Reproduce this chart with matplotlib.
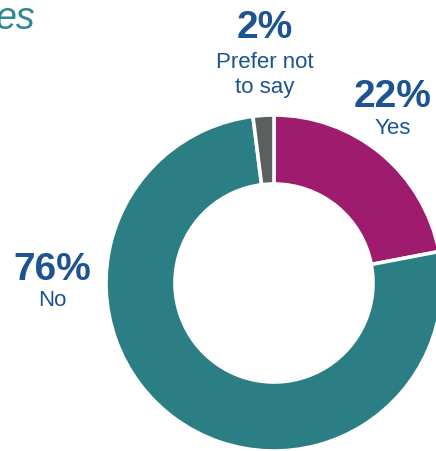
import matplotlib
matplotlib.use("Agg")
import matplotlib.pyplot as plt

categories = ["Yes", "No", "Prefer not\nto say"]
values = [22, 76, 2]
pct_labels = ["22%", "76%", "2%"]
colors = ["#9E1B6E", "#2B7F84", "#5B5F60"]
title_fragment = "es"

W, H = 436, 451
fig = plt.figure(figsize=(W / 100, H / 100), dpi=100)
ax = fig.add_axes([0, 0, 1, 1])

cx, cy, r_out, r_in = 274, 283, 168, 99
ax.pie(values, colors=colors, startangle=90, counterclock=False,
       center=(cx, H - cy), radius=r_out,
       wedgeprops=dict(width=r_out - r_in, edgecolor="white", linewidth=2.6))
ax.set_xlim(0, W)
ax.set_ylim(0, H)
ax.set_aspect("equal")
ax.set_axis_off()

blue = "#1C5390"
fam = ["Liberation Sans", "DejaVu Sans"]
# label positions (pixels from top-left)
pos = {"Yes": (393, 97, 128), "No": (52, 270, 301), "Prefer not\nto say": (265, 28, 75)}
for cat, pct in zip(categories, pct_labels):
    x, yp, yl = pos[cat]
    ax.text(x, H - yp, pct, ha="center", va="center", fontsize=28,
            fontweight="bold", color=blue, family=fam)
    ax.text(x, H - yl, cat, ha="center", va="center", fontsize=16,
            color=blue, family=fam, linespacing=1.3)

ax.text(-4, H - 19, title_fragment, ha="left", va="center", fontsize=27,
        style="italic", color="#2E8A8E", family=fam)

fig.savefig("out.png", dpi=100)
